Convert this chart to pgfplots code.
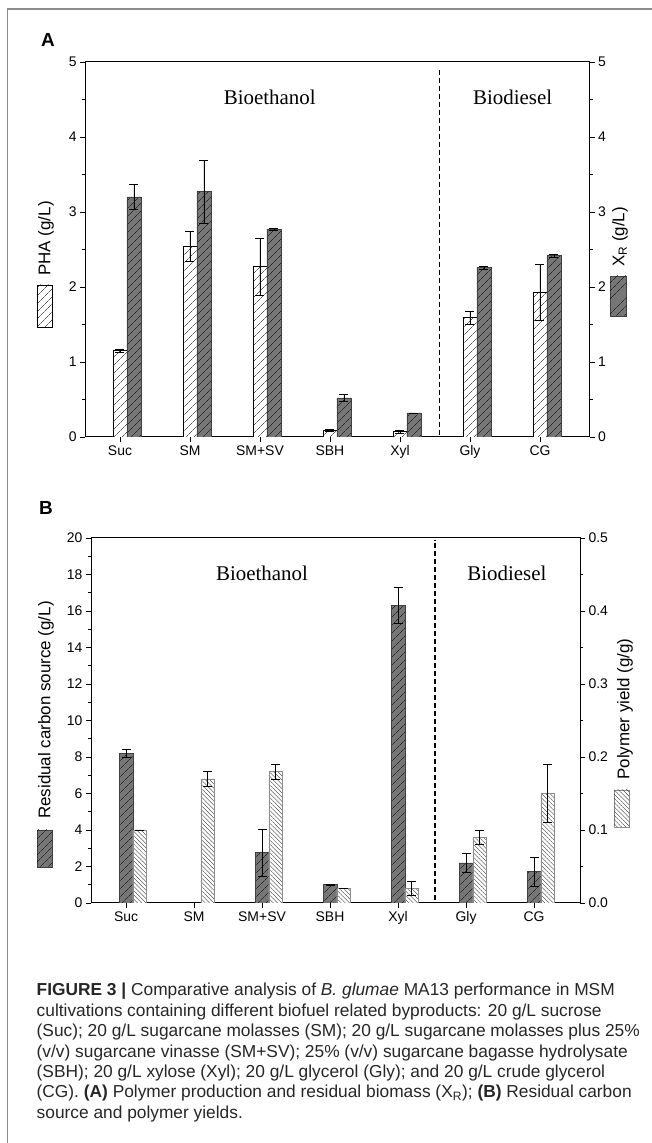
\documentclass[border=0pt]{standalone}
\usepackage{fontspec}
\setmainfont{Liberation Sans}
\newfontfamily\serifrm{Liberation Serif}
\usepackage{pgfplots}
\usepackage{pgfplotstable}
\pgfplotsset{compat=1.18}
\usetikzlibrary{patterns.meta}

\definecolor{barDark}{RGB}{118,118,118}
\definecolor{frameGray}{RGB}{140,140,140}

% x = category, y = value, e = error
\pgfplotstableread{
x y e
0 1.15 0.02
1 2.54 0.20
2 2.27 0.38
3 0.09 0.01
4 0.07 0.02
5 1.59 0.09
6 1.93 0.37
}\phaA
\pgfplotstableread{
x y e
0 3.20 0.17
1 3.27 0.42
2 2.77 0.01
3 0.52 0.05
4 0.32 0.00
5 2.26 0.02
6 2.42 0.02
}\xrA
\pgfplotstableread{
x y e
0 8.20 0.22
2 2.77 1.28
3 1.00 0.05
4 16.30 1.00
5 2.20 0.50
6 1.72 0.80
}\carbB
\pgfplotstableread{
x y e
0 0.10 0.00
1 0.17 0.01
2 0.18 0.01
3 0.02 0.00
4 0.02 0.01
5 0.09 0.01
6 0.15 0.04
}\yieldB

\tikzset{
  hatchA/.style={fill=white, draw=black, line width=0.6bp,
    postaction={pattern color=black, pattern={Lines[angle=45,distance=6bp,line width=0.4bp]}}},
  hatchDark/.style={fill=barDark, draw=black!75, line width=0.6bp,
    postaction={pattern color=black, pattern={Lines[angle=45,distance=6bp,line width=0.4bp]}}},
  hatchB/.style={fill=white, draw=black!45, line width=0.6bp,
    postaction={pattern color=black!80, pattern={Lines[angle=-45,distance=3bp,line width=0.35bp]}}},
  divider/.style={black, line width=1.6bp, dash pattern=on 5bp off 3bp},
}
\pgfplotsset{
  base/.style={
    scale only axis, enlargelimits=false,
    ybar, bar width=0.2,
    axis line style={-, line width=1bp},
    tick align=outside,
    major tick length=5bp, minor tick length=3bp,
    tick style={black, line width=0.8bp},
    tick label style={font=\fontsize{14}{16}\selectfont},
    /pgf/number format/assume math mode=true,
  },
  eb/.style={
    error bars/y dir=both, error bars/y explicit,
    error bars/error bar style={black, line width=0.6bp},
    error bars/error mark options={rotate=90, mark size=4.5bp, black, line width=0.6bp},
  },
}

\begin{document}
\begin{tikzpicture}
\useasboundingbox (0,0) rectangle (652bp,1143bp);
\draw[frameGray, line width=1.2bp] (7.5bp,0) -- (7.5bp,1134bp) -- (652bp,1134bp);

% ---------- panel A ----------
\node[font=\bfseries\fontsize{19}{22}\selectfont] at (48bp,1103bp) {A};
\begin{axis}[base, at={(85.2bp,706bp)}, anchor=south west,
  width=504.4bp, height=375bp,
  xmin=-0.497, xmax=6.709, ymin=0, ymax=5,
  xtick={0,...,6}, xticklabels={Suc,SM,SM+SV,SBH,Xyl,Gly,CG},
  xtick pos=bottom, ytick={0,...,5}, minor y tick num=1, ytick pos=left]
\addplot[hatchA, bar shift=0, eb] table[x=x, y=y, y error=e] {\phaA};
\addplot[hatchDark, bar shift=0.2, eb] table[x=x, y=y, y error=e] {\xrA};
\draw[divider] (axis cs:4.564,0.03) -- (axis cs:4.564,4.93);
\node[font=\serifrm\fontsize{21}{24}\selectfont] at (axis cs:2.14,4.53) {Bioethanol};
\node[font=\serifrm\fontsize{21}{24}\selectfont] at (axis cs:5.61,4.53) {Biodiesel};
\end{axis}
\begin{axis}[base, at={(85.2bp,706bp)}, anchor=south west,
  width=504.4bp, height=375bp,
  xmin=-0.497, xmax=6.709, ymin=0, ymax=5,
  axis x line=none, axis y line*=right,
  ytick={0,...,5}, minor y tick num=1]
\end{axis}
\node[rotate=90, font=\fontsize{17}{20}\selectfont] at (46bp,904.5bp) {PHA (g/L)};
\draw[hatchA] (37bp,816bp) rectangle (52bp,858bp);
\node[rotate=90, font=\fontsize{17}{20}\selectfont] at (620bp,906bp) {X\textsubscript{R} (g/L)};
\draw[hatchDark] (610bp,827bp) rectangle (626bp,867bp);

% ---------- panel B ----------
\node[font=\bfseries\fontsize{19}{22}\selectfont] at (46bp,635bp) {B};
\begin{axis}[base, at={(91bp,240bp)}, anchor=south west,
  width=489bp, height=365bp,
  xmin=-0.515, xmax=6.676, ymin=0, ymax=20,
  xtick={0,...,6}, xticklabels={Suc,SM,SM+SV,SBH,Xyl,Gly,CG},
  xtick pos=bottom, ytick={0,2,...,20}, minor y tick num=1, ytick pos=left]
\addplot[hatchDark, bar shift=0, eb] table[x=x, y=y, y error=e] {\carbB};
\draw[divider] (axis cs:4.544,0.15) -- (axis cs:4.544,19.9);
\node[font=\serifrm\fontsize{21}{24}\selectfont] at (axis cs:2.0,18.08) {Bioethanol};
\node[font=\serifrm\fontsize{21}{24}\selectfont] at (axis cs:5.6,18.08) {Biodiesel};
\end{axis}
\begin{axis}[base, at={(91bp,240bp)}, anchor=south west,
  width=489bp, height=365bp,
  xmin=-0.515, xmax=6.676, ymin=0, ymax=0.5,
  axis x line=none, axis y line*=right,
  ytick={0,0.1,0.2,0.3,0.4,0.5}, minor y tick num=1,
  yticklabel style={/pgf/number format/.cd, fixed, fixed zerofill, precision=1}]
\addplot[hatchB, bar shift=0.2, eb] table[x=x, y=y, y error=e] {\yieldB};
\end{axis}
\node[rotate=90, font=\fontsize{17}{20}\selectfont] at (46bp,433bp) {Residual carbon source (g/L)};
\draw[hatchDark] (37bp,276bp) rectangle (52bp,313bp);
\node[rotate=90, font=\fontsize{17}{20}\selectfont] at (625bp,434bp) {Polymer yield (g/g)};
\draw[hatchB] (614bp,316bp) rectangle (629bp,353bp);

% ---------- caption ----------
\node[anchor=north west, align=left, inner sep=0, text=black!85,
  font=\fontsize{17.4}{20.5}\selectfont] at (36.5bp,160bp) {%
\textbf{FIGURE 3 |} Comparative analysis of \textit{B. glumae} MA13 performance in MSM\\
cultivations containing different biofuel related byproducts: 20 g/L sucrose\\
(Suc); 20 g/L sugarcane molasses (SM); 20 g/L sugarcane molasses plus 25\%\\
(v/v) sugarcane vinasse (SM+SV); 25\% (v/v) sugarcane bagasse hydrolysate\\
(SBH); 20 g/L xylose (Xyl); 20 g/L glycerol (Gly); and 20 g/L crude glycerol\\
(CG). \textbf{(A)} Polymer production and residual biomass (X\textsubscript{R}); \textbf{(B)} Residual carbon\\
source and polymer yields.};
\end{tikzpicture}
\end{document}
